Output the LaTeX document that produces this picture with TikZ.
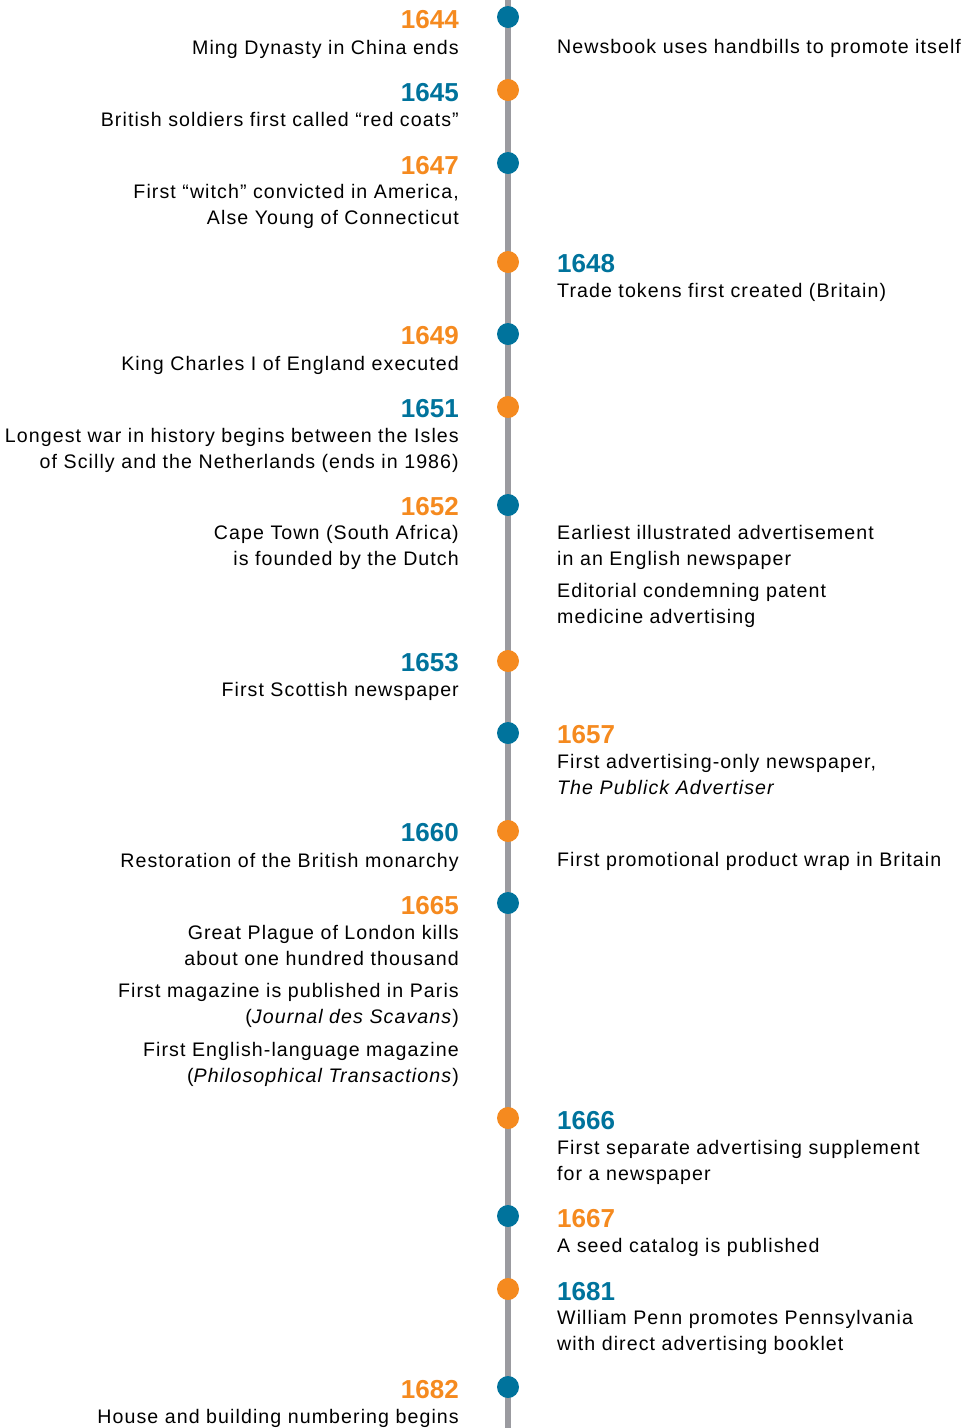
\documentclass[tikz,border=0pt]{standalone}
\usepackage{fontspec}
\setmainfont{Liberation Sans}[LetterSpace=5.5]
\newfontfamily\yearfont{Liberation Sans}
\definecolor{tlorange}{HTML}{F58A1F}
\definecolor{tlblue}{HTML}{00739C}
\definecolor{tlgray}{HTML}{9B9BA0}
\begin{document}
\begin{tikzpicture}[x=1pt,y=-1pt,
  lft/.style={anchor=base east,inner sep=0pt,align=right,font=\fontsize{19.6}{25.5}\selectfont},
  rgt/.style={anchor=base west,inner sep=0pt,align=left,font=\fontsize{19.6}{25.5}\selectfont},
  yrO/.style={inner sep=0pt,text=tlorange,font=\yearfont\fontsize{26}{26}\selectfont\bfseries},
  yrB/.style={inner sep=0pt,text=tlblue,font=\yearfont\fontsize{26}{26}\selectfont\bfseries},
  dotO/.style={circle,fill=tlorange,minimum size=22pt,inner sep=0pt},
  dotB/.style={circle,fill=tlblue,minimum size=22pt,inner sep=0pt},
  axis/.style={draw=tlgray,line width=5.5pt}]
\useasboundingbox (0,0) rectangle (967,1428);
\coordinate (top) at (508,0);
\coordinate (bot) at (508,1428);
\draw[axis] (top) -- (bot);
% dots
\node[dotB] (d1644) at (508,17) {};
\node[dotO] (d1645) at (508,90) {};
\node[dotB] (d1647) at (508,163) {};
\node[dotO] (d1648) at (508,262) {};
\node[dotB] (d1649) at (508,334) {};
\node[dotO] (d1651) at (508,407) {};
\node[dotB] (d1652) at (508,505) {};
\node[dotO] (d1653) at (508,661) {};
\node[dotB] (d1657) at (508,733) {};
\node[dotO] (d1660) at (508,831) {};
\node[dotB] (d1665) at (508,903) {};
\node[dotO] (d1666) at (508,1118) {};
\node[dotB] (d1667) at (508,1216) {};
\node[dotO] (d1681) at (508,1289) {};
\node[dotB] (d1682) at (508,1387) {};
% years
\node[yrO,anchor=base east] (y1644) at (459,28) {1644};
\node[yrB,anchor=base east] (y1645) at (459,101) {1645};
\node[yrO,anchor=base east] (y1647) at (459,174) {1647};
\node[yrB,anchor=base west] (y1648) at (557,272) {1648};
\node[yrO,anchor=base east] (y1649) at (459,344) {1649};
\node[yrB,anchor=base east] (y1651) at (459,417) {1651};
\node[yrO,anchor=base east] (y1652) at (459,515) {1652};
\node[yrB,anchor=base east] (y1653) at (459,671) {1653};
\node[yrO,anchor=base west] (y1657) at (557,743) {1657};
\node[yrB,anchor=base east] (y1660) at (459,841) {1660};
\node[yrO,anchor=base east] (y1665) at (459,914) {1665};
\node[yrB,anchor=base west] (y1666) at (557,1129) {1666};
\node[yrO,anchor=base west] (y1667) at (557,1227) {1667};
\node[yrB,anchor=base west] (y1681) at (557,1300) {1681};
\node[yrO,anchor=base east] (y1682) at (459,1398) {1682};
% left texts (anchor = baseline of last line)
\node[lft] (t1644) at (459,54) {Ming Dynasty in China ends};
\node[lft] (t1645) at (459,126) {British soldiers first called “red coats”};
\node[lft] (t1647) at (459,224) {First “witch” convicted in America,\\Alse Young of Connecticut};
\node[lft] (t1649) at (459,370) {King Charles I of England executed};
\node[lft] (t1651) at (459,468) {Longest war in history begins between the Isles\\of Scilly and the Netherlands (ends in 1986)};
\node[lft] (t1652) at (459,565) {Cape Town (South Africa)\\is founded by the Dutch};
\node[lft] (t1653) at (459,696) {First Scottish newspaper};
\node[lft] (t1660) at (459,867) {Restoration of the British monarchy};
\node[lft] (t1665a) at (459,965) {Great Plague of London kills\\about one hundred thousand};
\node[lft] (t1665b) at (459,1023) {First magazine is published in Paris\\(\textit{Journal des Scavans})};
\node[lft] (t1665c) at (459,1082) {First English-language magazine\\(\textit{Philosophical Transactions})};
\node[lft] (t1682) at (459,1423) {House and building numbering begins};
% right texts
\node[rgt] (r1644) at (557,53) {Newsbook uses handbills to promote itself};
\node[rgt] (r1648) at (557,297) {Trade tokens first created (Britain)};
\node[rgt] (r1652a) at (557,565) {Earliest illustrated advertisement\\in an English newspaper};
\node[rgt] (r1652b) at (557,623) {Editorial condemning patent\\medicine advertising};
\node[rgt] (r1657) at (557,794) {First advertising-only newspaper,\\\textit{The Publick Advertiser}};
\node[rgt] (r1660) at (557,866) {First promotional product wrap in Britain};
\node[rgt] (r1666) at (557,1180) {First separate advertising supplement\\for a newspaper};
\node[rgt] (r1667) at (557,1252) {A seed catalog is published};
\node[rgt] (r1681) at (557,1350) {William Penn promotes Pennsylvania\\with direct advertising booklet};
\end{tikzpicture}
\end{document}
